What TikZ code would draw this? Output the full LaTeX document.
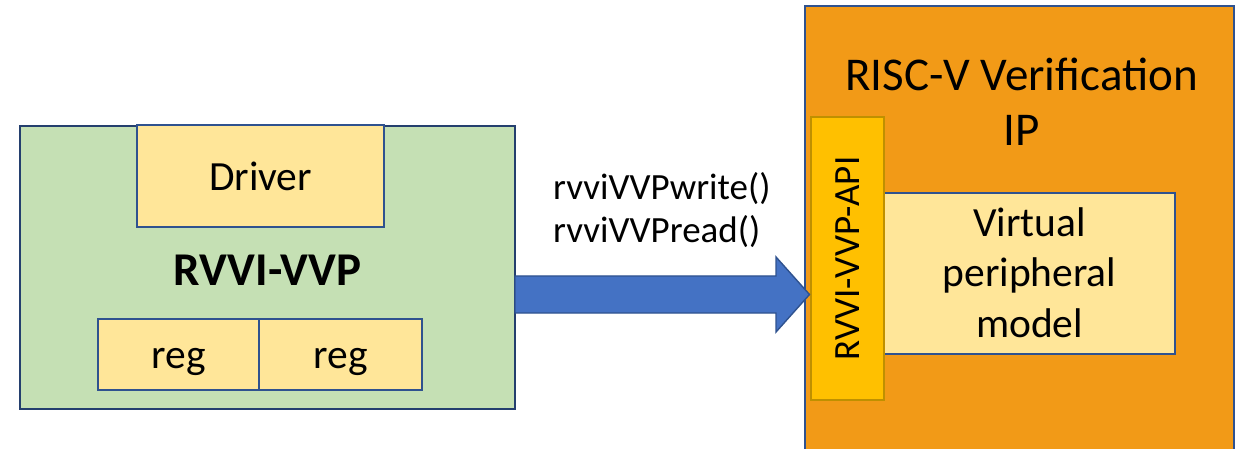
\documentclass[tikz,border=0pt]{standalone}
\usepackage{fontspec}
\setmainfont{Carlito}
\usetikzlibrary{calc}
\definecolor{greenfill}{HTML}{C5E0B4}
\definecolor{yellowfill}{HTML}{FFE699}
\definecolor{navy}{HTML}{2F528F}
\definecolor{darknavy}{HTML}{243F6E}
\definecolor{orangefill}{HTML}{F29A17}
\definecolor{goldfill}{HTML}{FFC000}
\definecolor{goldline}{HTML}{BF9000}
\definecolor{arrowblue}{HTML}{4472C4}
\begin{document}
\begin{tikzpicture}[x=1pt,y=-1pt,
  box/.style={rectangle, draw=navy, line width=2pt, inner sep=0pt, outer sep=0pt, anchor=north west},
  lbl/.style={inner sep=0pt, anchor=base, font=\fontsize{41.5}{49}\selectfont},
  arrowst/.style={fill=arrowblue, draw=navy, line width=1.4pt, line join=miter}]
\useasboundingbox (0,0) rectangle (1240,449);
\fill[white] (0,0) rectangle (1240,449);
\clip (0,0) rectangle (1240,449);

% left block
\node[box, draw=darknavy, fill=greenfill, minimum width=495pt, minimum height=283pt] (vvp) at (20,126) {};
\node[box, fill=yellowfill, minimum width=247pt, minimum height=102pt] (drv) at (137,125) {};
\node[box, fill=yellowfill, minimum width=161pt, minimum height=71pt] (reg1) at (98,319) {};
\node[box, fill=yellowfill, minimum width=163pt, minimum height=71pt] (reg2) at (259,319) {};
\node[lbl] (drvt) at (260.5,191) {Driver};
\node[lbl, font=\fontsize{47}{56}\selectfont\bfseries] (vvpt) at (267.5,285) {RVVI-VVP};
\node[lbl] (reg1t) at (178.5,368) {reg};
\node[lbl] (reg2t) at (340.5,368) {reg};

% right block
\node[box, fill=orangefill, minimum width=429pt, minimum height=480pt] (vip) at (805,6) {};
\node[lbl, font=\fontsize{47}{56}\selectfont] (vipt1) at (1021.5,91) {RISC-V Verification};
\node[lbl, font=\fontsize{47}{56}\selectfont] (vipt2) at (1021.5,146) {IP};
\node[box, fill=yellowfill, minimum width=291pt, minimum height=161pt] (vpm) at (884,193) {};
\node[lbl] (vpmt1) at (1029.5,237) {Virtual};
\node[lbl] (vpmt2) at (1029.5,287) {peripheral};
\node[lbl] (vpmt3) at (1029.5,337) {model};
\node[box, draw=goldline, fill=goldfill, minimum width=73pt, minimum height=283pt] (api) at (811,117) {};
\node[inner sep=0pt, rotate=90, font=\fontsize{37}{44}\selectfont] (apit) at (api.center) {RVVI-VVP-API};

% block arrow from RVVI-VVP to the API
\coordinate (ay) at (0,294.5);
\coordinate (tl) at (vvp.east |- ay);
\coordinate (tp) at (api.west |- ay);
\draw[arrowst] ($(tl)+(0,-18.5)$) -- ($(tp)+(-35,-18.5)$) -- ($(tp)+(-35,-37.5)$) -- ($(tp)+(-1.5,0)$)
  -- ($(tp)+(-35,37.5)$) -- ($(tp)+(-35,18.5)$) -- ($(tl)+(0,18.5)$) -- cycle;

% call labels
\node[lbl, anchor=base west, font=\fontsize{37}{44}\selectfont] (w) at (553,200) {rvviVVPwrite()};
\node[lbl, anchor=base west, font=\fontsize{37}{44}\selectfont] (r) at (553,243) {rvviVVPread()};
\end{tikzpicture}
\end{document}
